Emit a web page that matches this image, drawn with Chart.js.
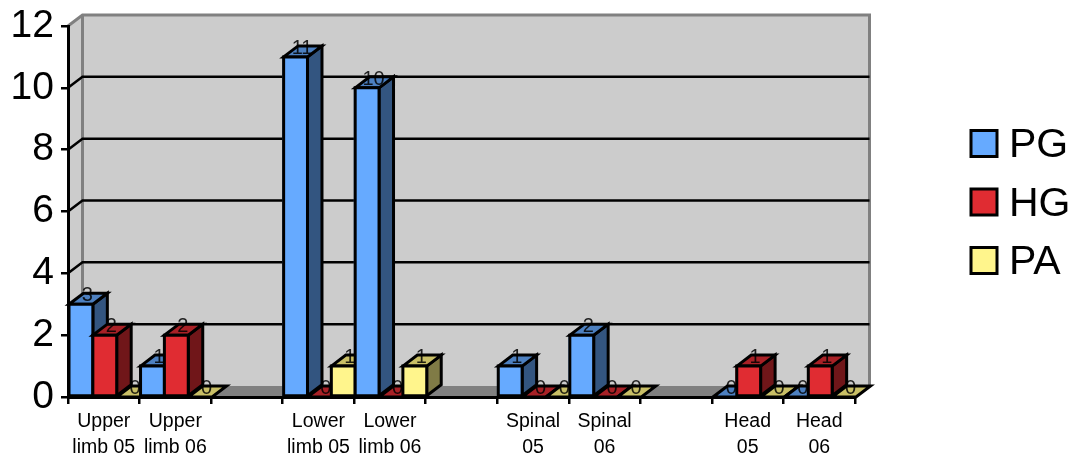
<!DOCTYPE html>
<html>
<head>
<meta charset="utf-8">
<script src="https://cdn.jsdelivr.net/npm/chart.js@4/dist/chart.umd.min.js"></script>
<style>
  body { margin: 0; background: #fff; }
  canvas { display: block; }
</style>
</head>
<body>
<canvas id="myChart" width="1075" height="457"></canvas>
<script>
const categories = [["Upper", "limb 05"], ["Upper", "limb 06"], "", ["Lower", "limb 05"], ["Lower", "limb 06"], "", ["Spinal", "05"], ["Spinal", "06"], "", ["Head", "05"], ["Head", "06"]]
const seriesNames = ["PG", "HG", "PA"]
const pgValues = [3, 1, null, 11, 10, null, 1, 2, null, 0, 0]
const hgValues = [2, 2, null, 0, 0, null, 0, 0, null, 1, 1]
const paValues = [0, 0, null, 1, 1, null, 0, 0, null, 0, 0]

const frontColors = ["#66aaff", "#e02c32", "#fff58c"]
const topColors = ["#4d80c0", "#a82126", "#c9bf66"]
const sideColors = ["#335580", "#701619", "#807b46"]

// how far the "3d" depth goes up and to the right
const depthX = 14.5
const depthY = 11
// bars sit a touch to the right of the tick marks
const barShift = 1
const font = "Liberation Sans, Arial, sans-serif"

function poly(ctx, pts, fill, stroke, lineWidth){
  ctx.beginPath()
  pts.forEach((p, i) => i ? ctx.lineTo(p[0], p[1]) : ctx.moveTo(p[0], p[1]))
  ctx.closePath()
  if(fill){
    ctx.fillStyle = fill
    ctx.fill()
  }
  if(stroke){
    ctx.strokeStyle = stroke
    ctx.lineWidth = lineWidth
    ctx.lineJoin = "miter"
    ctx.stroke()
  }
}

// walls, floor and gridlines behind the bars
const wallsPlugin = {
  id: "walls",
  beforeDatasetsDraw(chart){
    const ctx = chart.ctx
    const y = chart.scales.y
    const a = chart.chartArea
    ctx.save()
    const backL = a.left + depthX, backR = a.right + depthX
    const backT = a.top - depthY, backB = a.bottom - depthY
    poly(ctx, [[a.left, a.top], [backL, backT], [backL, backB], [a.left, a.bottom]], "#cccccc")
    poly(ctx, [[backL, backT], [backR, backT], [backR, backB], [backL, backB]], "#cccccc")
    poly(ctx, [[a.left, a.bottom], [backL, backB], [backR, backB], [a.right, a.bottom]], "#808080")

    ctx.strokeStyle = "#808080"
    ctx.lineWidth = 3
    ctx.beginPath()
    ctx.moveTo(a.left, a.top)
    ctx.lineTo(backL, backT)
    ctx.lineTo(backR, backT)
    ctx.lineTo(backR, backB)
    ctx.moveTo(backL, backT)
    ctx.lineTo(backL, backB)
    ctx.stroke()

    ctx.strokeStyle = "#000"
    ctx.lineWidth = 2.5
    y.ticks.forEach(t => {
      if(t.value == 0 || t.value == 12) return
      const py = y.getPixelForValue(t.value)
      ctx.beginPath()
      ctx.moveTo(a.left, py)
      ctx.lineTo(backL, py - depthY)
      ctx.lineTo(backR, py - depthY)
      ctx.stroke()
    })
    ctx.beginPath()
    ctx.moveTo(a.right, a.bottom)
    ctx.lineTo(backR, backB)
    ctx.stroke()
    ctx.restore()
  }
}

// repaints every bar as a box, in category then series order so they overlap properly
const boxesPlugin = {
  id: "boxes",
  afterDatasetsDraw(chart){
    const ctx = chart.ctx
    ctx.save()
    categories.forEach((c, i) => {
      chart.data.datasets.forEach((ds, d) => {
        const bar = chart.getDatasetMeta(d).data[i]
        if(ds.data[i] == null) return
        const l = bar.x - bar.width / 2 + barShift, r = bar.x + bar.width / 2 + barShift
        const t = bar.y, b = bar.base
        if(t != b){
          poly(ctx, [[r, t], [r + depthX, t - depthY], [r + depthX, b - depthY], [r, b]], sideColors[d], "#000", 3)
        }
        poly(ctx, [[l, t], [l + depthX, t - depthY], [r + depthX, t - depthY], [r, t]], topColors[d], "#000", 3)
        if(t != b){
          poly(ctx, [[l, t], [r, t], [r, b], [l, b]], frontColors[d], "#000", 3)
        }
      })
    })
    // value labels sit on top of everything
    ctx.fillStyle = "rgba(0,0,0,0.85)"
    ctx.font = "20px " + font
    ctx.textAlign = "center"
    ctx.textBaseline = "alphabetic"
    chart.data.datasets.forEach((ds, d) => {
      chart.getDatasetMeta(d).data.forEach((bar, i) => {
        if(ds.data[i] == null) return
        ctx.fillText(ds.data[i], bar.x + 6.5 + barShift, bar.y - 3)
      })
    })
    ctx.restore()
  }
}

// legend text sits closer to the swatch than the built in legend allows
const legendPlugin = {
  id: "sideLegend",
  afterDraw(chart){
    const ctx = chart.ctx
    ctx.save()
    ctx.font = "41px " + font
    ctx.textAlign = "left"
    ctx.textBaseline = "alphabetic"
    chart.data.datasets.forEach((ds, d) => {
      const top = 130.5 + d * 58.5
      ctx.fillStyle = frontColors[d]
      ctx.strokeStyle = "#000"
      ctx.lineWidth = 3
      ctx.fillRect(971, top, 26, 26)
      ctx.strokeRect(971, top, 26, 26)
      ctx.fillStyle = "#000"
      ctx.fillText(ds.label, 1009, top + 26.5)
    })
    ctx.restore()
  }
}

new Chart("myChart", {
  type: "bar",
  data: {
    labels: categories,
    datasets: [
      { label: seriesNames[0], data: pgValues, backgroundColor: frontColors[0] },
      { label: seriesNames[1], data: hgValues, backgroundColor: frontColors[1] },
      { label: seriesNames[2], data: paValues, backgroundColor: frontColors[2] }
    ]
  },
  plugins: [wallsPlugin, boxesPlugin, legendPlugin],
  options: {
    responsive: false,
    animation: false,
    layout: { padding: { top: 26, right: 220, left: 0, bottom: 0 } },
    datasets: { bar: { categoryPercentage: 1, barPercentage: 1 } },
    plugins: { legend: { display: false }, tooltip: { enabled: false } },
    scales: {
      x: {
        afterFit(scale){
          scale.height = 60
          scale.paddingLeft = 0
          scale.paddingRight = 0
        },
        // z above 0 so the axis lines land on top of the walls and bars,
        // border has to come after grid or it loses its position
        grid: { z: 1, drawOnChartArea: false, color: "#000", lineWidth: 2.5, tickLength: 7 },
        border: { z: 2, color: "#000", width: 3 },
        ticks: {
          autoSkip: false,
          maxRotation: 0,
          color: "#000",
          padding: 5,
          font: { family: font, size: 19.5, lineHeight: 25.5 / 19.5 }
        }
      },
      y: {
        min: 0,
        max: 12,
        afterFit(scale){
          scale.width = 68
          scale.paddingTop = 0
          scale.paddingBottom = 0
        },
        grid: { z: 1, drawOnChartArea: false, color: "#000", lineWidth: 2.5, tickLength: 7 },
        border: { z: 2, color: "#000", width: 3 },
        ticks: {
          stepSize: 2,
          color: "#000",
          padding: 7,
          font: { family: font, size: 39 }
        }
      }
    }
  }
})
</script>
</body>
</html>
